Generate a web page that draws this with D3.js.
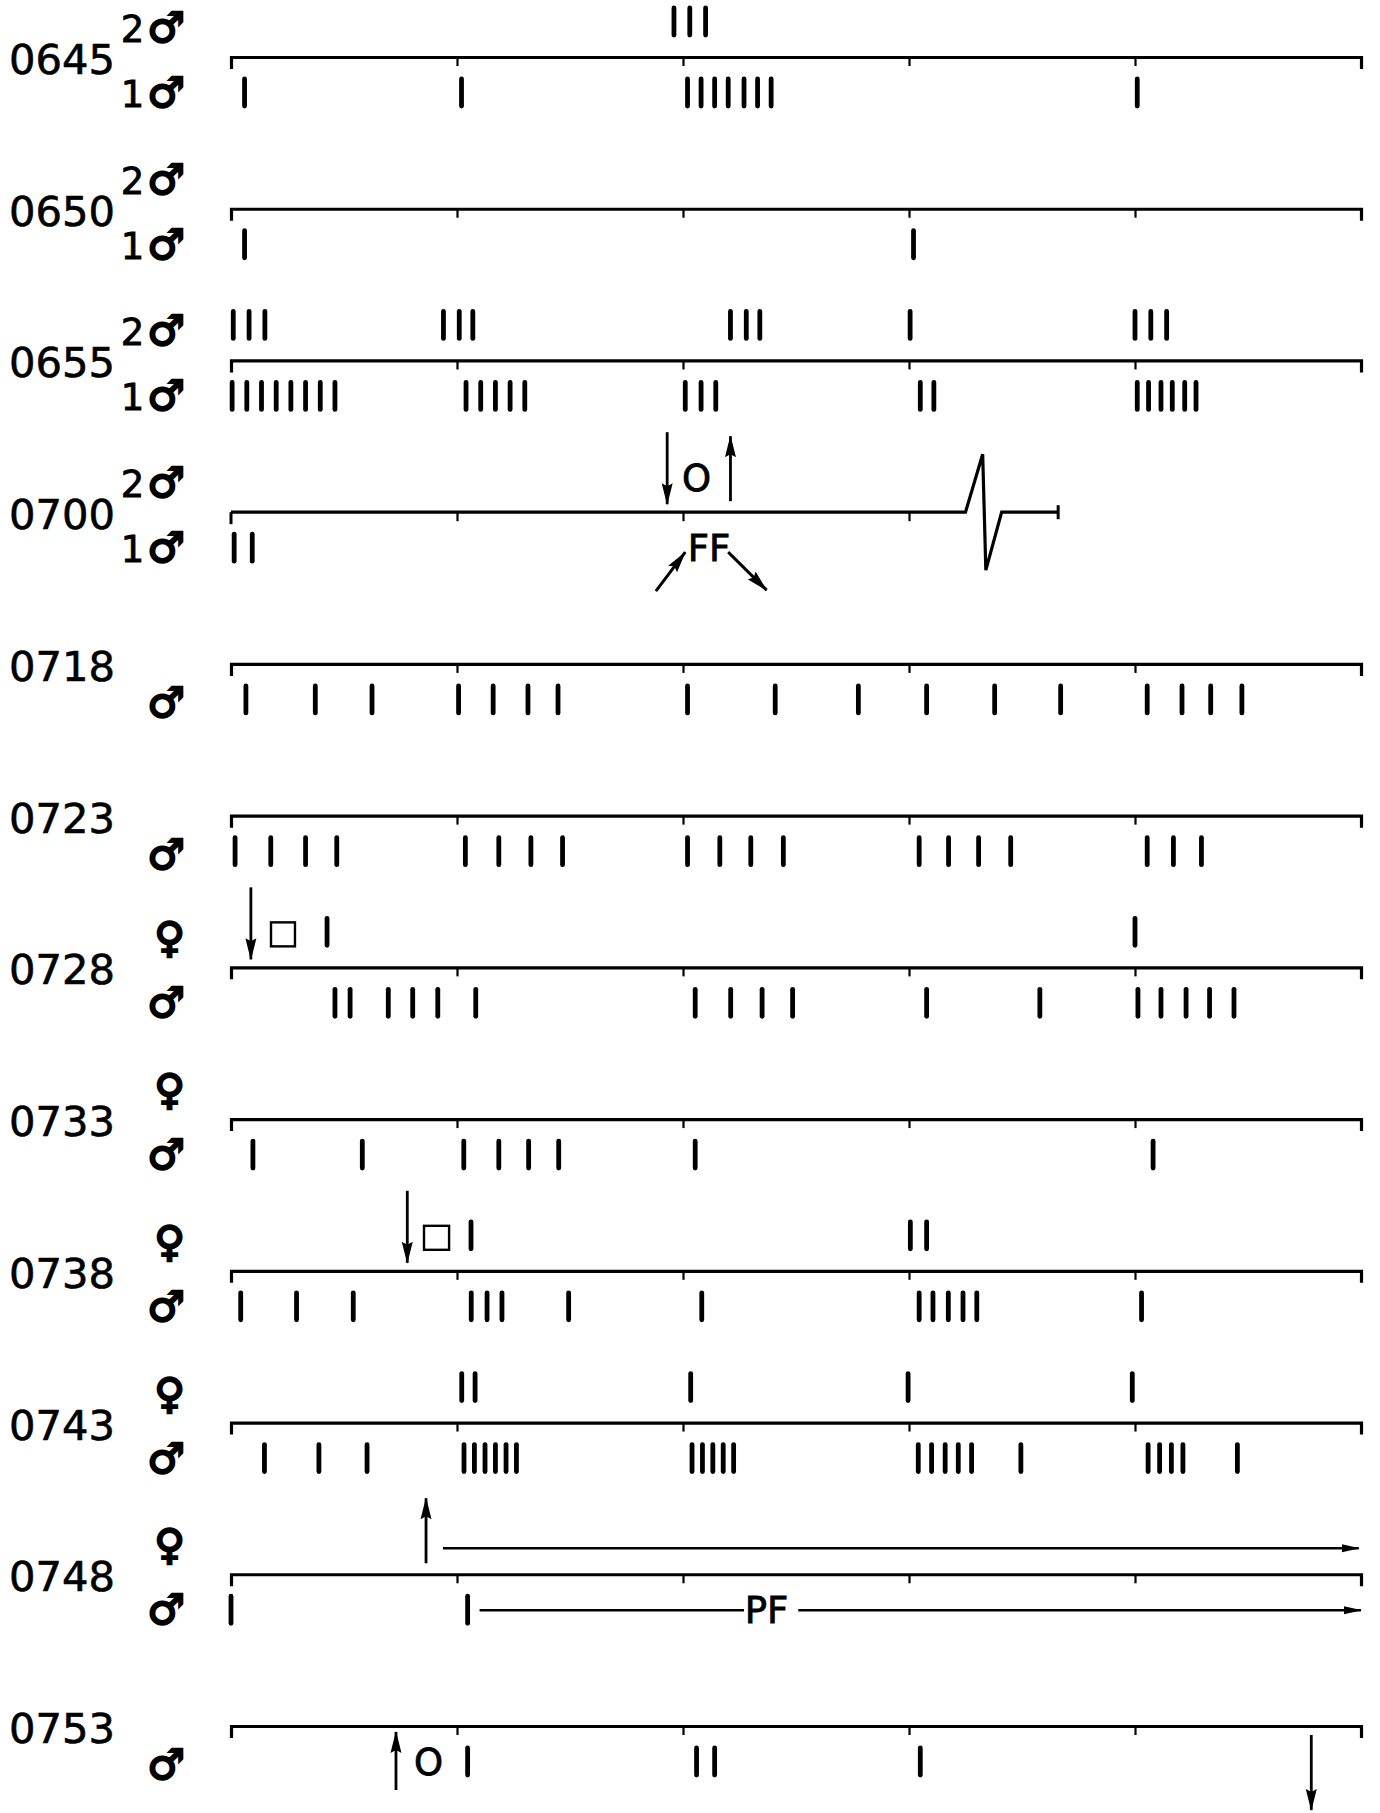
<!DOCTYPE html>
<html><head><meta charset="utf-8">
<script src="https://cdn.jsdelivr.net/npm/d3@7"></script>
<style>body{margin:0;background:#fff}</style>
</head><body><svg id="c" width="1380" height="1813"></svg>
<script>
// ---------- data (times in minutes within each 5‑minute block) ----------
const rows = ["0645","0650","0655","0700","0718","0723","0728","0733","0738","0743","0748","0753"];
const upperLabels = ["2♂","2♂","2♂","2♂","","","♀","♀","♀","♀","♀",""];
const lowerLabels = ["1♂","1♂","1♂","1♂","♂","♂","♂","♂","♂","♂","♂","♂"];
const upperMarks = [
  [1.96,2.03,2.10],
  [],
  [0.01,0.08,0.15, 0.94,1.01,1.07, 2.21,2.28,2.34, 3.005, 4.0,4.07,4.14],
  [],
  [],
  [],
  [0.425, 4.0],
  [],
  [1.062, 3.006,3.078],
  [1.021,1.08, 2.034, 2.996, 3.988],
  [],
  []
];
const lowerMarks = [
  [0.06, 1.02, 2.02,2.08,2.14,2.20,2.27,2.33,2.39, 4.01],
  [0.06, 3.02],
  [0.005,0.07,0.135,0.20,0.265,0.33,0.395,0.46, 1.04,1.105,1.17,1.235,1.30, 2.01,2.08,2.145, 3.05,3.11, 4.01,4.06,4.115,4.165,4.22,4.27],
  [0.014,0.094],
  [0.066,0.373,0.624, 1.007,1.16,1.314,1.447, 2.02,2.408,2.776, 3.078,3.379,3.671, 4.054,4.208,4.335,4.473],
  [0.018,0.176,0.33,0.468, 1.037,1.185,1.327,1.467, 2.02,2.163,2.30,2.444, 3.045,3.175,3.308,3.45, 4.054,4.17,4.294],
  [0.46,0.527,0.696,0.804,0.915,1.083, 2.054,2.211,2.35,2.485, 3.078,3.579, 4.013,4.115,4.226,4.33,4.438],
  [0.097,0.581, 1.03,1.185,1.317,1.45, 2.054, 4.08],
  [0.043,0.29,0.541, 1.063,1.133,1.199, 1.494, 2.083, 3.045,3.106,3.174,3.239,3.30, 4.029],
  [0.148,0.389,0.602, 1.031,1.077,1.124,1.170,1.217,1.263, 2.040,2.086,2.132,2.178,2.224, 3.041,3.100,3.160,3.218,3.277, 3.495, 4.058,4.109,4.161,4.212, 4.453],
  [0.0, 1.047],
  [1.047, 2.06,2.14, 3.05]
];
const axisEnds = [5,5,5,3.66,5,5,5,5,5,5,5,5];
const tickValues = [1,2,3,4];
const vArrows = [
  {row:"0700", lane:"upper", t:1.93, dir:"down"},
  {row:"0700", lane:"upper", t:2.21, dir:"up"},
  {row:"0728", lane:"upper", t:0.088, dir:"down"},
  {row:"0738", lane:"upper", t:0.78, dir:"down"},
  {row:"0748", lane:"upper", t:0.863, dir:"up"},
  {row:"0753", lane:"lower", t:0.73, dir:"up"},
  {row:"0753", lane:"lower", t:4.78, dir:"down"}
];
const boxes = [{row:"0728", t0:0.177, t1:0.283}, {row:"0738", t0:0.854, t1:0.965}];
const notes = [
  {row:"0700", lane:"upper", t:2.06, text:"O"},
  {row:"0700", lane:"lower", t:2.115, text:"FF"},
  {row:"0753", lane:"lower", t:0.874, text:"O"},
  {row:"0748", lane:"lower", t:2.37, text:"PF"}
];
const ffArrows = [{row:"0700", t0:1.88, t1:2.01, toward:"up"}, {row:"0700", t0:2.20, t1:2.37, toward:"down"}];
const spans = [
  {row:"0748", lane:"upper", t0:0.938, t1:4.99, head:true},
  {row:"0748", lane:"lower", t0:1.10, t1:2.27, head:false},
  {row:"0748", lane:"lower", t0:2.51, t1:5.0, head:true}
];
const zigzagT = [3.25, 3.326, 3.34, 3.41];
const zigzagK = [0, -1, 1, 0];

// ---------- drawing ----------
const svg = d3.select("#c");
const x = d3.scaleLinear().domain([0,5]).range([231,1361]);
const y = d3.scalePoint().domain(rows).range([57,1726]);
const FONT = "'DejaVu Sans', sans-serif";

const defs = svg.append("defs");
defs.append("marker")
  .attr("id","ah").attr("viewBox","0 0 22 12").attr("refX",21).attr("refY",6)
  .attr("markerUnits","userSpaceOnUse").attr("markerWidth",22).attr("markerHeight",12)
  .attr("orient","auto")
  .append("path").attr("d","M0,0.5 L22,6 L0,11.5 L3,6 Z").attr("fill","#000");
defs.append("marker")
  .attr("id","ahs").attr("viewBox","0 0 18 9").attr("refX",17).attr("refY",4.5)
  .attr("markerUnits","userSpaceOnUse").attr("markerWidth",18).attr("markerHeight",9)
  .attr("orient","auto")
  .append("path").attr("d","M0,0.5 L18,4.5 L0,8.5 Z").attr("fill","#000");

function laneLabel(g, label, yy) {
  const t = g.append("text").attr("x",185).attr("y",yy).attr("text-anchor","end")
    .attr("font-family",FONT).attr("fill","#000");
  const digit = label.length > 1 ? label.slice(0, label.length-1) : "";
  const sym = label.slice(-1);
  if (digit) t.append("tspan").attr("font-size",37).text(digit)
    .attr("stroke","#000").attr("stroke-width",0.8);
  t.append("tspan").attr("font-size",42).attr("stroke","#000").attr("stroke-width",2.2)
    .attr("dx", digit ? 3 : 0).text(sym);
}

rows.forEach((r,i)=>{
  const g = svg.append("g").attr("transform",`translate(0,${y(r)})`);
  const end = axisEnds[i];
  if (end === 5) {
    const ax = d3.axisBottom(x).tickValues(tickValues).tickSizeInner(9).tickSizeOuter(12).tickFormat("");
    const a = g.append("g").call(ax);
    a.select(".domain").attr("stroke","#000").attr("stroke-width",3.2).attr("fill","none");
    a.selectAll(".tick line").attr("stroke","#000").attr("stroke-width",2.2);
  } else {
    const xs = d3.scaleLinear().domain([0,end]).range([x(0),x(end)]);
    const ax = d3.axisBottom(xs).tickValues(tickValues.filter(t=>t<end)).tickSizeInner(9).tickSizeOuter(0).tickFormat("");
    const a = g.append("g").call(ax);
    a.select(".domain").remove();
    a.selectAll(".tick line").attr("stroke","#000").attr("stroke-width",2.2);
    const pts = [[0,0]].concat(zigzagT.map((t,k)=>[t,zigzagK[k]*58])).concat([[end,0]]);
    g.append("path").attr("d", d3.line().x(d=>x(d[0])).y(d=>d[1])(pts))
      .attr("fill","none").attr("stroke","#000").attr("stroke-width",3.2).attr("stroke-linejoin","miter");
    g.append("path").attr("d", d3.line()([[x(0),0],[x(0),12]])).attr("stroke","#000").attr("stroke-width",3);
    g.append("path").attr("d", d3.line()([[x(end),-7],[x(end),7]])).attr("stroke","#000").attr("stroke-width",3);
  }
  // row time label
  g.append("text").attr("x",9).attr("y",17).attr("font-family",FONT).attr("font-size",40)
    .attr("textLength",106).attr("lengthAdjust","spacingAndGlyphs")
    .attr("fill","#000").attr("stroke","#000").attr("stroke-width",0.6).text(r);
  // lane labels
  if (upperLabels[i]) laneLabel(g, upperLabels[i], -15);
  laneLabel(g, lowerLabels[i], upperLabels[i] ? 50 : 53);
  // marks
  g.selectAll("line.up").data(upperMarks[i]).join("line").attr("class","up")
    .attr("x1",d=>x(d)).attr("x2",d=>x(d)).attr("y1",-49).attr("y2",-22)
    .attr("stroke","#000").attr("stroke-width",4.8).attr("stroke-linecap","round");
  g.selectAll("line.lo").data(lowerMarks[i]).join("line").attr("class","lo")
    .attr("x1",d=>x(d)).attr("x2",d=>x(d)).attr("y1",22).attr("y2",49)
    .attr("stroke","#000").attr("stroke-width",4.8).attr("stroke-linecap","round");
});

// vertical arrows
const arrowY = {"upper-down":[-80,-8],"upper-up":[-11,-76],"lower-up":[64,6],"lower-down":[9,84]};
vArrows.forEach(a=>{
  const [y0,y1] = arrowY[a.lane+"-"+a.dir];
  svg.append("line").attr("x1",x(a.t)).attr("x2",x(a.t)).attr("y1",y(a.row)+y0).attr("y2",y(a.row)+y1)
    .attr("stroke","#000").attr("stroke-width",2.8).attr("marker-end","url(#ah)");
});
// boxes
boxes.forEach(b=>{
  svg.append("rect").attr("x",x(b.t0)).attr("y",y(b.row)-45).attr("width",x(b.t1)-x(b.t0)).attr("height",24)
    .attr("fill","none").attr("stroke","#000").attr("stroke-width",2.4);
});
// text notes
notes.forEach(n=>{
  svg.append("text").attr("x",x(n.t)).attr("y",y(n.row)+(n.lane==="upper"?-21:49)).attr("text-anchor","middle")
    .attr("font-family",FONT).attr("font-size",37).attr("fill","#000").attr("stroke","#000").attr("stroke-width",0.8)
    .attr("textLength", n.text.length===1 ? 22 : null).text(n.text);
});
// FF arrows
ffArrows.forEach(f=>{
  const p = f.toward==="up" ? [[x(f.t0),y(f.row)+79],[x(f.t1),y(f.row)+40]] : [[x(f.t0),y(f.row)+40],[x(f.t1),y(f.row)+78]];
  svg.append("path").attr("d",d3.line()(p)).attr("stroke","#000").attr("stroke-width",3).attr("fill","none").attr("marker-end","url(#ah)");
});
// spans
spans.forEach(s=>{
  const yy = y(s.row)+(s.lane==="upper"?-26:36);
  const l = svg.append("line").attr("x1",x(s.t0)).attr("x2",x(s.t1)).attr("y1",yy).attr("y2",yy)
    .attr("stroke","#000").attr("stroke-width",2.4);
  if (s.head) l.attr("marker-end","url(#ahs)");
});
</script></body></html>
